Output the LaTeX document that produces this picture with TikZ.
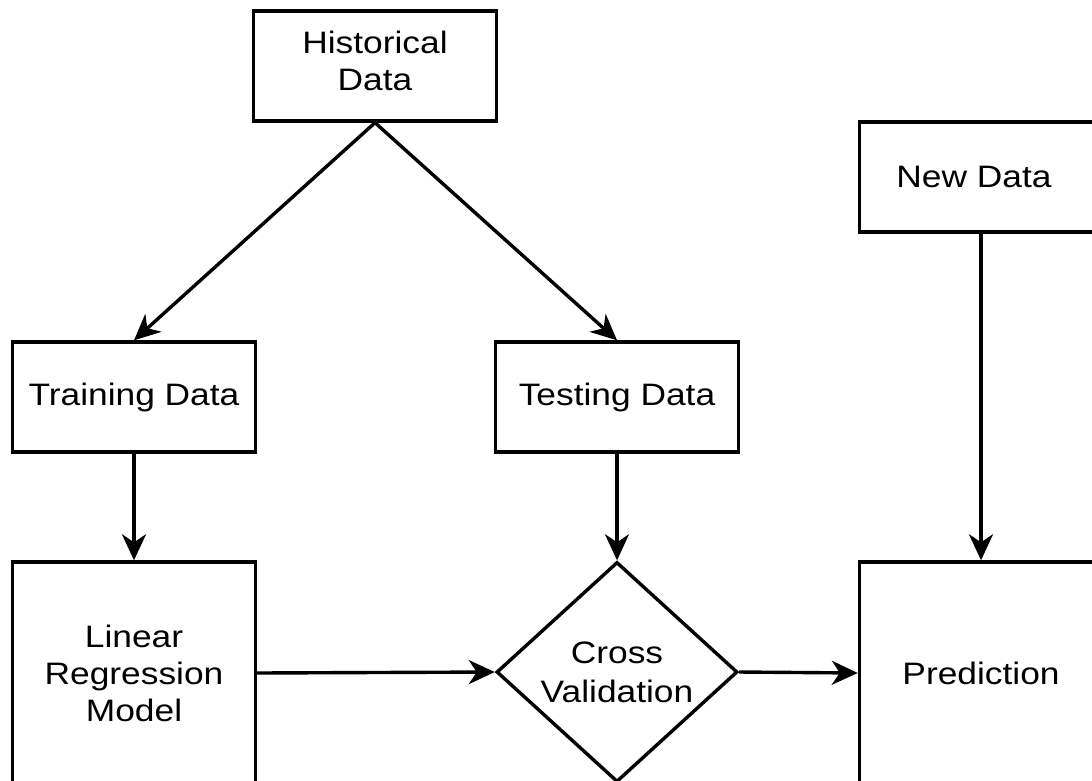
\documentclass[tikz,border=0pt]{standalone}
\usepackage{fontspec}
\setmainfont[FakeStretch=1.14]{Liberation Sans}
\usetikzlibrary{shapes.geometric,arrows.meta}
\begin{document}
\begin{tikzpicture}[x=1pt,y=-1pt,
  boxnode/.style={draw=black,line width=3.4pt,fill=white,minimum width=243pt,minimum height=110pt,inner sep=0pt,align=center,font=\fontsize{31}{37}\selectfont},
  decnode/.style={draw=black,line width=3.4pt,fill=white,shape=diamond,minimum width=241pt,minimum height=220pt,inner sep=0pt,align=center,font=\fontsize{31}{39}\selectfont},
  flow/.style={line width=3.4pt,-{Stealth[length=26pt,width=24pt,inset=8pt]}}]
\useasboundingbox (0,0) rectangle (1092,780);
\clip (0,0) rectangle (1092,780);
\fill[white] (0,0) rectangle (1092,780);
\node[boxnode,text depth=10pt] (hist) at (375,66) {Historical\\Data};
\node[boxnode] (train) at (134,397) {Training Data};
\node[boxnode] (test) at (617,397) {Testing Data};
\node[boxnode] (new) at (981,177) {New Data\hspace{14pt}};
\node[boxnode,minimum height=222pt] (lrm) at (134,673) {Linear\\Regression\\Model};
\node[decnode] (cv) at (617,672) {Cross\\Validation};
\node[boxnode,minimum height=222pt] (pred) at (981,673) {Prediction};
\draw[flow] (hist.south) -- (train.north);
\draw[flow] (hist.south) -- (test.north);
\draw[flow] (train.south) -- (lrm.north);
\draw[flow] (test.south) -- (cv.north);
\draw[flow] (lrm.east) -- (cv.west);
\draw[flow] (cv.east) -- (pred.west);
\draw[flow] (new.south) -- (pred.north);
\end{tikzpicture}
\end{document}
